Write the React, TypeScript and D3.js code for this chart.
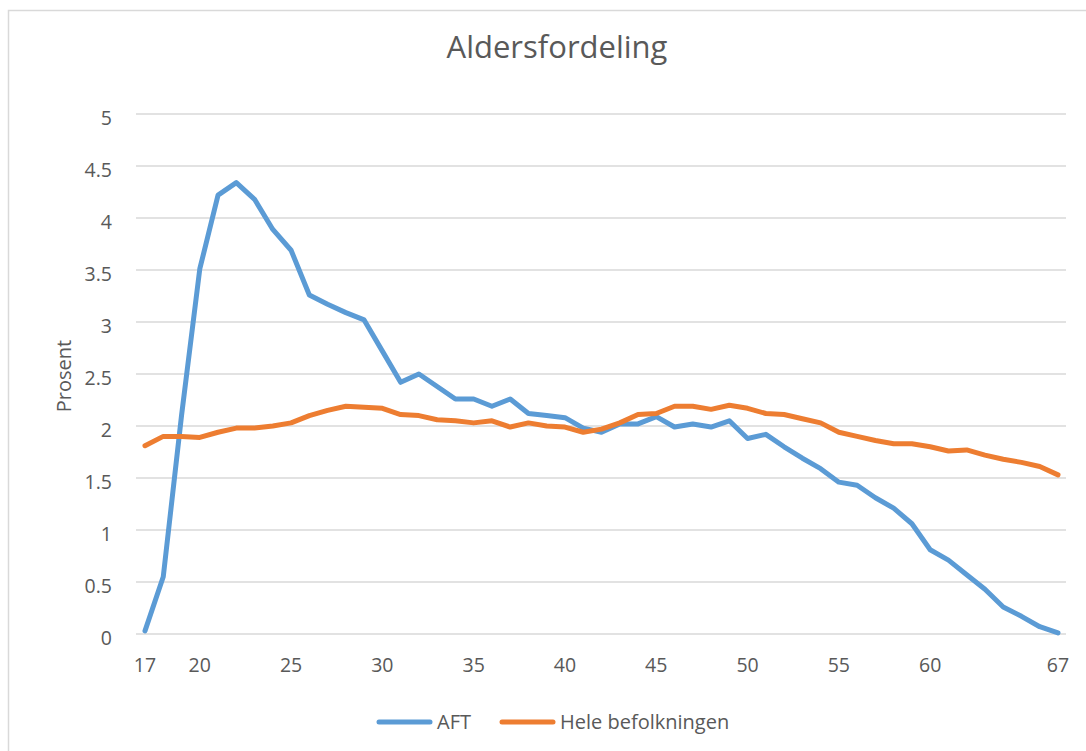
import * as d3 from 'd3';

const ages = d3.range(17, 68);
const aft = [
  0.03, 0.55, 2.1, 3.51, 4.22, 4.34, 4.18, 3.89, 3.69, 3.26,
  3.17, 3.09, 3.02, 2.72, 2.42, 2.5, 2.38, 2.26, 2.26, 2.19,
  2.26, 2.12, 2.1, 2.08, 1.98, 1.94, 2.02, 2.02, 2.09, 1.99,
  2.02, 1.99, 2.05, 1.88, 1.92, 1.8, 1.69, 1.59, 1.46, 1.43,
  1.31, 1.21, 1.06, 0.81, 0.71, 0.57, 0.43, 0.26, 0.17, 0.07, 0.01,
];
const hele = [
  1.81, 1.9, 1.9, 1.89, 1.94, 1.98, 1.98, 2.0, 2.03, 2.1,
  2.15, 2.19, 2.18, 2.17, 2.11, 2.1, 2.06, 2.05, 2.03, 2.05,
  1.99, 2.03, 2.0, 1.99, 1.94, 1.97, 2.03, 2.11, 2.12, 2.19,
  2.19, 2.16, 2.2, 2.17, 2.12, 2.11, 2.07, 2.03, 1.94, 1.9,
  1.86, 1.83, 1.83, 1.8, 1.76, 1.77, 1.72, 1.68, 1.65, 1.61, 1.53,
];
const xTicks = [17, 20, 25, 30, 35, 40, 45, 50, 55, 60, 67];
const yTicks = [0, 0.5, 1, 1.5, 2, 2.5, 3, 3.5, 4, 4.5, 5];
const seriesNames = ['AFT', 'Hele befolkningen'];
const colors = ['#5B9BD5', '#ED7D31'];

const font = '"Open Sans", Calibri, sans-serif';
const textColor = '#595959';

export default function App() {
  const x = d3.scaleLinear().domain([17, 67]).range([145, 1058]);
  const y = d3.scaleLinear().domain([0, 5]).range([634, 114]);
  const line = d3
    .line<number>()
    .x((_, i) => x(ages[i]))
    .y((d) => y(d));
  const series = [aft, hele];

  return (
    <svg
      width={1086}
      height={751}
      style={{ position: 'absolute', left: 0, top: 0, background: '#fff' }}
      fontFamily={font}
    >
      <rect x={8.5} y={10.5} width={1100} height={800} fill="#fff" stroke="#d9d9d9" strokeWidth={1.5} />
      <text x={557} y={58} textAnchor="middle" fontSize={31} fill={textColor}>
        Aldersfordeling
      </text>

      {yTicks.map((t) => (
        <g key={t}>
          <line x1={136} x2={1066} y1={y(t)} y2={y(t)} stroke="#d9d9d9" strokeWidth={1.5} />
          <text x={112} y={y(t) + 11} textAnchor="end" fontSize={19.5} fill={textColor}>
            {t}
          </text>
        </g>
      ))}

      {xTicks.map((t) => (
        <text key={t} x={x(t)} y={672} textAnchor="middle" fontSize={19.5} fill={textColor}>
          {t}
        </text>
      ))}

      <text
        transform="translate(71,376) rotate(-90)"
        textAnchor="middle"
        fontSize={20}
        fill={textColor}
      >
        Prosent
      </text>

      {series.map((s, i) => (
        <path
          key={seriesNames[i]}
          d={line(s) ?? ''}
          fill="none"
          stroke={colors[i]}
          strokeWidth={5}
          strokeLinejoin="round"
          strokeLinecap="round"
        />
      ))}

      <g fontSize={20} fill={textColor}>
        <line x1={379} x2={430} y1={722} y2={722} stroke={colors[0]} strokeWidth={5} strokeLinecap="round" />
        <text x={437} y={729}>{seriesNames[0]}</text>
        <line x1={502} x2={553} y1={722} y2={722} stroke={colors[1]} strokeWidth={5} strokeLinecap="round" />
        <text x={560} y={729}>{seriesNames[1]}</text>
      </g>
    </svg>
  );
}
